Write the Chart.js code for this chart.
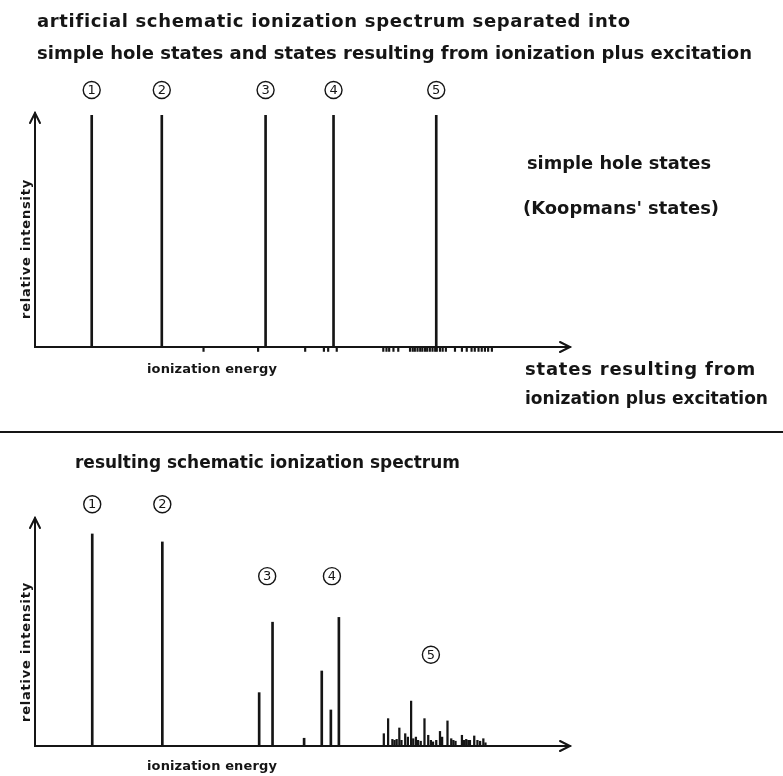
<!DOCTYPE html>
<html>
<head>
<meta charset="utf-8">
<script src="https://cdn.jsdelivr.net/npm/chart.js@4.4.1/dist/chart.umd.min.js"></script>
<style>
  html, body { margin: 0; background: #fff; }
  #wrap { position: relative; width: 783px; height: 776px; }
  canvas { position: absolute; left: 0; top: 0; }
</style>
</head>
<body>
<div id="wrap">
  <canvas id="upper" width="783" height="776"></canvas>
  <canvas id="lower" width="783" height="776"></canvas>
</div>
<script>
/*===== DATA (energy in arbitrary units along the axis, 0..100) =====*/

// simple hole states (Koopmans' states)
const holeEnergy = [10.6, 23.7, 43.1, 55.8, 75.0];
const holeIntensity = [99, 99, 99, 99, 99];

// states from ionization plus excitation, marked under the axis
const satelliteEnergy = [31.5, 41.7, 50.5, 54.0, 54.8, 56.4,
    65.1, 65.7, 66.2, 67.0, 67.9, 70.1, 70.6, 71.0, 71.5, 72.0, 72.4, 72.9, 73.3,
    73.8, 74.3, 74.8, 75.1, 75.7, 76.2, 76.8, 78.5, 79.8, 80.7, 81.6, 82.2, 82.9,
    83.5, 84.1, 84.7, 85.4];

// resulting spectrum, bands 1-4
const peakEnergy = [10.7, 23.8, 41.9, 44.4, 50.3, 53.6, 55.3, 56.8];
const peakIntensity = [93.0, 89.5, 23.4, 54.3, 3.4, 32.9, 15.8, 56.4];

// resulting spectrum, band 5 (many weak lines)
const clusterEnergy = [65.2, 66.0, 66.8, 67.2, 67.6, 68.1, 68.5, 69.2, 69.7, 70.3,
    70.7, 71.2, 71.6, 72.1, 72.8, 73.5, 74.0, 74.4, 75.0, 75.7, 76.1, 77.1, 77.8,
    78.2, 78.6, 79.8, 80.2, 80.6, 81.0, 81.3, 82.1, 82.7, 83.2, 83.8, 84.2];
const clusterIntensity = [5.4, 12.0, 2.9, 2.5, 2.9, 7.9, 2.5, 5.4, 3.9, 19.7,
    3.2, 3.9, 2.5, 2.1, 12.0, 4.7, 2.5, 1.8, 2.5, 6.4, 3.9, 11.0, 3.2,
    2.5, 2.1, 4.7, 2.5, 2.9, 2.5, 2.5, 4.4, 2.5, 2.1, 3.2, 1.4];

const bandNumbers = ["1", "2", "3", "4", "5"];

/*===== DRAWING HELPERS =====*/

const INK = "#151515";
const FONT = "'DejaVu Sans', 'Noto Sans', sans-serif";
const TEXT_FONT = "bold 18px " + FONT;

// draws text stretched or squeezed to a given width
function fitText(ctx, text, x, y, width, font) {
    ctx.font = font;
    ctx.letterSpacing = "0px";
    var w = ctx.measureText(text).width;
    var extra = (width - w) / Math.max(text.length, 1);
    if (extra > 0) {
        ctx.letterSpacing = extra + "px";
        ctx.fillText(text, x, y);
    } else {
        ctx.fillText(text, x, y, width);
    }
    ctx.letterSpacing = "0px";
}

function drawAxes(chart) {
    var ctx = chart.ctx;
    var xs = chart.scales.x, ys = chart.scales.y;
    var x0 = xs.getPixelForValue(0), y0 = ys.getPixelForValue(0);
    var xEnd = xs.getPixelForValue(100), yTop = ys.getPixelForValue(100);
    ctx.save();
    ctx.strokeStyle = INK;
    ctx.lineWidth = 2;
    ctx.lineCap = "round";
    ctx.beginPath();
    ctx.moveTo(x0, yTop);
    ctx.lineTo(x0, y0);
    ctx.lineTo(xEnd, y0);
    ctx.stroke();
    // arrow heads
    ctx.beginPath();
    ctx.moveTo(x0 - 5, yTop + 10);
    ctx.lineTo(x0, yTop);
    ctx.lineTo(x0 + 5, yTop + 10);
    ctx.moveTo(xEnd - 10, y0 - 5);
    ctx.lineTo(xEnd, y0);
    ctx.lineTo(xEnd - 10, y0 + 5);
    ctx.stroke();
    ctx.restore();
}

function drawBandNumber(ctx, label, cx, cy) {
    ctx.save();
    ctx.strokeStyle = INK;
    ctx.lineWidth = 1.4;
    ctx.beginPath();
    ctx.arc(cx, cy, 8.5, 0, Math.PI * 2);
    ctx.stroke();
    ctx.fillStyle = INK;
    ctx.font = "13px " + FONT;
    ctx.textAlign = "center";
    ctx.textBaseline = "middle";
    ctx.fillText(label, cx, cy + 0.5);
    ctx.restore();
}

function drawAxisTitles(chart, energyBaseline, intensityCenter) {
    var ctx = chart.ctx;
    ctx.save();
    ctx.fillStyle = INK;
    ctx.textBaseline = "alphabetic";
    fitText(ctx, "ionization energy", 147, energyBaseline, 130, "bold 13px " + FONT);
    ctx.translate(30, intensityCenter);
    ctx.rotate(-Math.PI / 2);
    fitText(ctx, "relative intensity", -70, 0, 140, "bold 13px " + FONT);
    ctx.restore();
}

/*===== UPPER PANEL: hole states and satellite positions =====*/

const upperDecor = {
    id: "upperDecor",
    afterDraw: function(chart) {
        var ctx = chart.ctx;
        drawAxes(chart);
        drawAxisTitles(chart, 373, 249);

        var xs = chart.scales.x;
        holeEnergy.forEach(function(e, i) {
            drawBandNumber(ctx, bandNumbers[i], xs.getPixelForValue(e), 90);
        });

        ctx.save();
        ctx.fillStyle = INK;
        ctx.textBaseline = "alphabetic";
        fitText(ctx, "artificial schematic ionization spectrum separated into", 37, 27, 593, TEXT_FONT);
        fitText(ctx, "simple hole states and states resulting from ionization plus excitation", 37, 59, 715, TEXT_FONT);
        fitText(ctx, "simple hole states", 527, 169, 184, TEXT_FONT);
        fitText(ctx, "(Koopmans' states)", 523, 214, 196, TEXT_FONT);
        fitText(ctx, "states resulting from", 525, 375, 231, TEXT_FONT);
        fitText(ctx, "ionization plus excitation", 525, 404, 243, TEXT_FONT);
        // rule between the two panels
        ctx.fillRect(0, 431, 783, 2);
        ctx.restore();
    }
};

new Chart("upper", {
    type: "bar",
    data: {
        datasets: [{
            data: holeEnergy.map(function(e, i) { return { x: e, y: holeIntensity[i] }; }),
            backgroundColor: INK,
            barThickness: 2,
            grouped: false
        }, {
            data: satelliteEnergy.map(function(e) { return { x: e, y: [-1.9, 0] }; }),
            backgroundColor: INK,
            barThickness: 1.5,
            grouped: false,
            clip: false
        }]
    },
    options: {
        responsive: false,
        animation: false,
        events: [],
        layout: { padding: { left: 35, right: 213, top: 113, bottom: 429 } },
        scales: {
            x: { type: "linear", min: 0, max: 100, offset: false, display: false },
            y: { min: 0, max: 100, display: false }
        },
        plugins: { legend: { display: false }, tooltip: { enabled: false } }
    },
    plugins: [upperDecor]
});

/*===== LOWER PANEL: resulting spectrum =====*/

const lowerDecor = {
    id: "lowerDecor",
    afterDraw: function(chart, args, opts) {
        var ctx = chart.ctx;
        drawAxes(chart);
        drawAxisTitles(chart, 770, 652);

        var xs = chart.scales.x, ys = chart.scales.y;
        opts.at.forEach(function(p, i) {
            drawBandNumber(ctx, bandNumbers[i], xs.getPixelForValue(p[0]), ys.getPixelForValue(p[1]));
        });

        ctx.save();
        ctx.fillStyle = INK;
        ctx.textBaseline = "alphabetic";
        fitText(ctx, "resulting schematic ionization spectrum", 75, 468, 385, TEXT_FONT);
        ctx.restore();
    }
};

new Chart("lower", {
    type: "bar",
    data: {
        datasets: [{
            data: peakEnergy.map(function(e, i) { return { x: e, y: peakIntensity[i] }; }),
            backgroundColor: INK,
            barThickness: 2,
            grouped: false
        }, {
            data: clusterEnergy.map(function(e, i) { return { x: e, y: clusterIntensity[i] }; }),
            backgroundColor: INK,
            barThickness: 1.6,
            grouped: false
        }]
    },
    options: {
        responsive: false,
        animation: false,
        events: [],
        layout: { padding: { left: 35, right: 213, top: 518, bottom: 30 } },
        scales: {
            x: { type: "linear", min: 0, max: 100, offset: false, display: false },
            y: { min: 0, max: 100, display: false }
        },
        plugins: {
            legend: { display: false },
            tooltip: { enabled: false },
            lowerDecor: { at: [[10.7, 106], [23.8, 106], [43.4, 74.5], [55.5, 74.5], [74.0, 40]] }
        }
    },
    plugins: [lowerDecor]
});
</script>
</body>
</html>
